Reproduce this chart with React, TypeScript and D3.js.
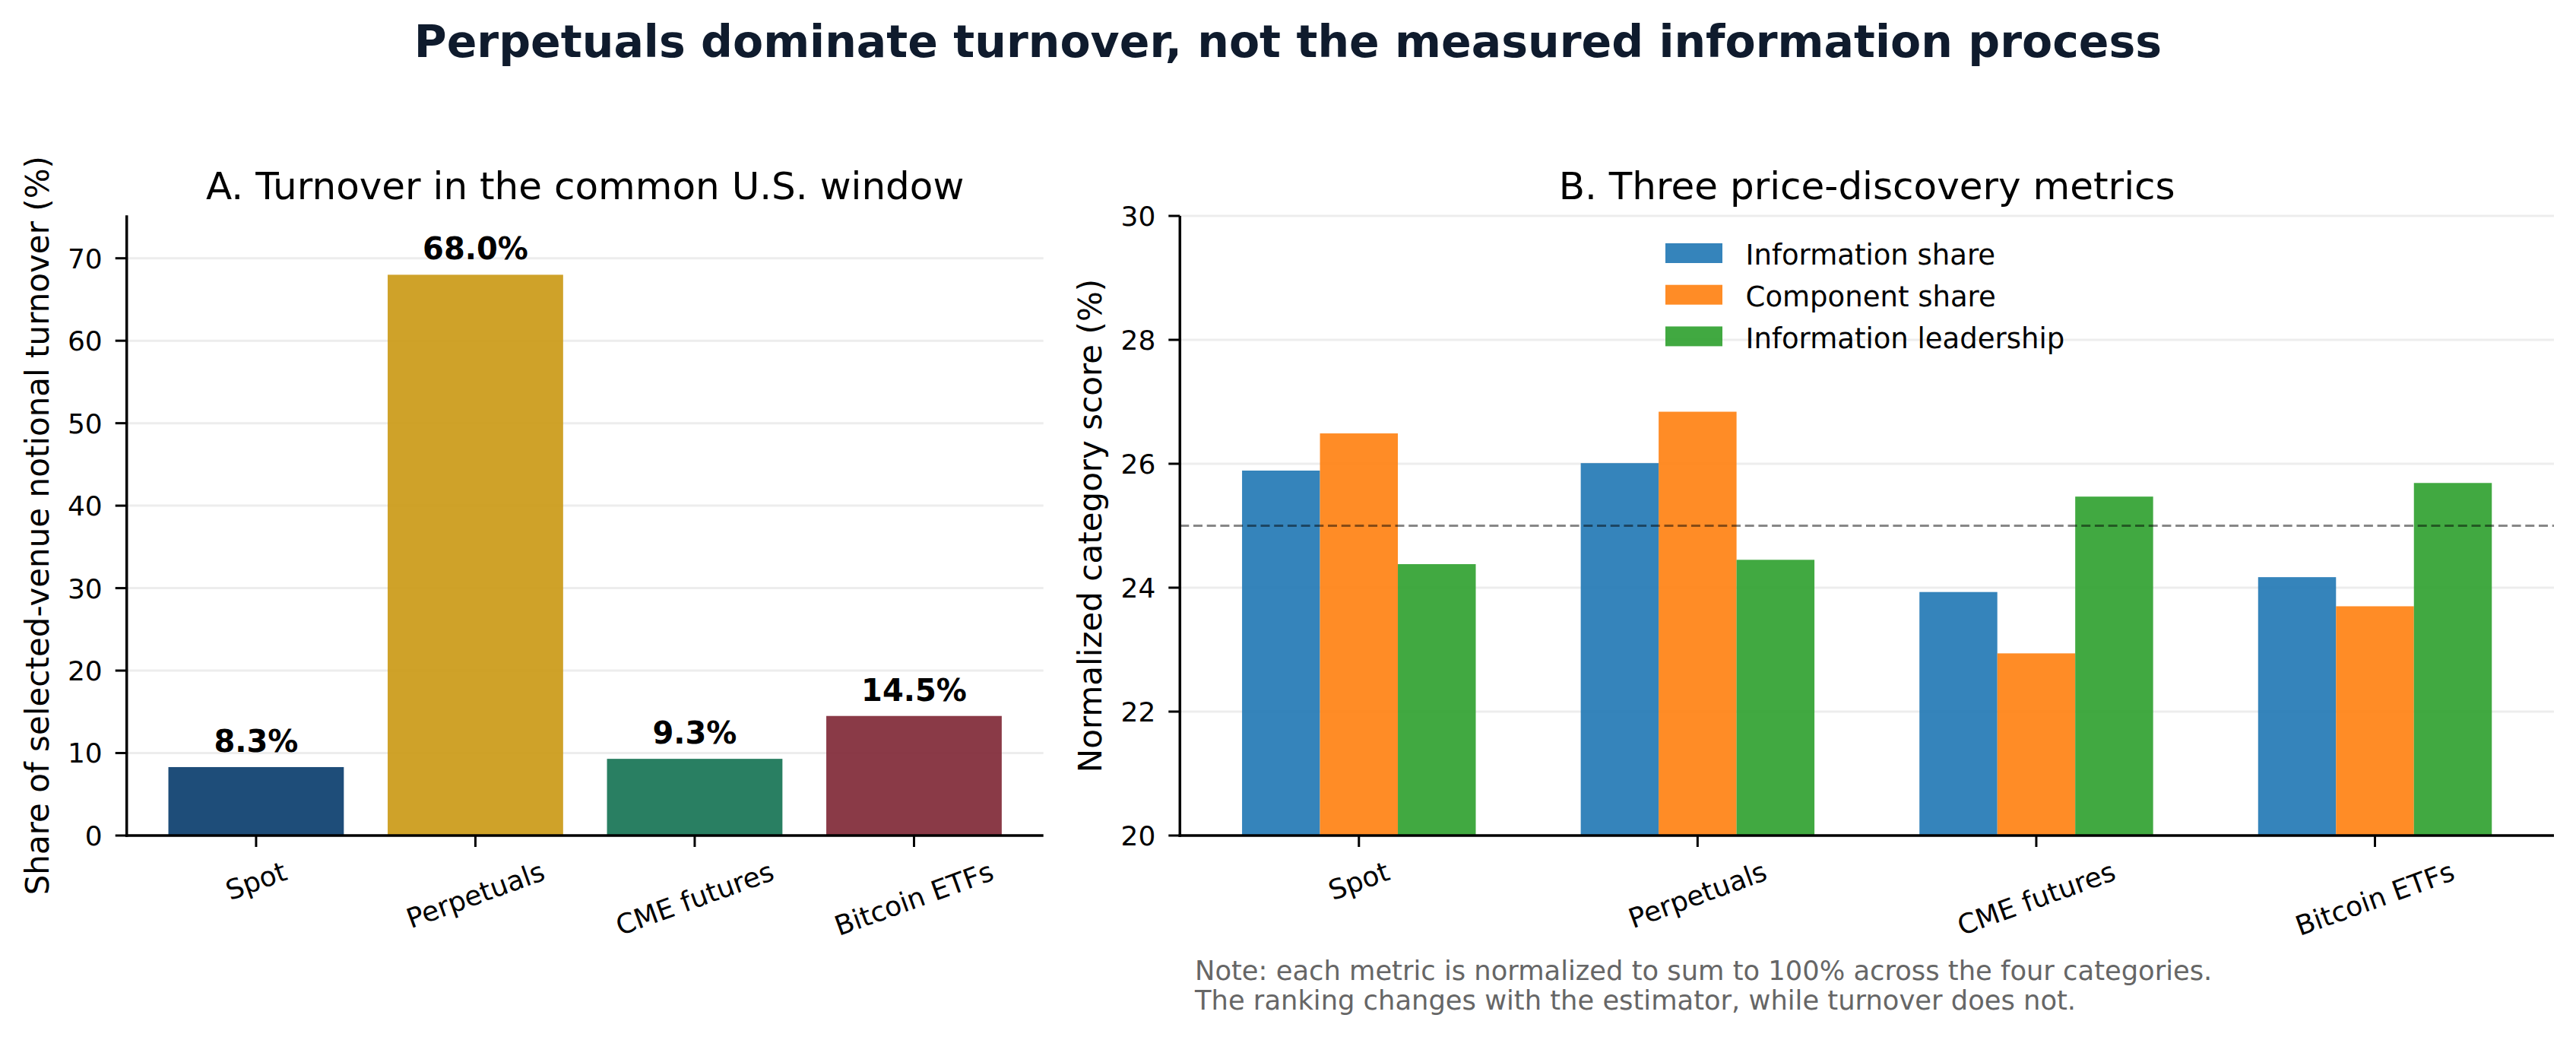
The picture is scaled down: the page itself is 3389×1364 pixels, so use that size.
import React, { useEffect, useRef } from 'react';
import * as d3 from 'd3';

// Panel A data
const categories = ['Spot', 'Perpetuals', 'CME futures', 'Bitcoin ETFs'];
const turnoverShare = [8.3, 68.0, 9.3, 14.5];
const turnoverColors = ['#063a6a', '#ca9812', '#127151', '#7d2533'];
const turnoverTicks = [0, 10, 20, 30, 40, 50, 60, 70];

// Panel B data
const metricNames = ['Information share', 'Component share', 'Information leadership'];
const metricColors = ['#1f77b4', '#ff7f0e', '#2ca02c'];
const informationShare = [25.89, 26.01, 23.93, 24.17];
const componentShare = [26.49, 26.84, 22.94, 23.7];
const informationLeadership = [24.38, 24.45, 25.47, 25.69];
const scoreTicks = [20, 22, 24, 26, 28, 30];
const equalWeight = 25;

const mainTitle = 'Perpetuals dominate turnover, not the measured information process';
const titleA = 'A. Turnover in the common U.S. window';
const titleB = 'B. Three price-discovery metrics';
const yLabelA = 'Share of selected-venue notional turnover (%)';
const yLabelB = 'Normalized category score (%)';
const noteLines = [
  'Note: each metric is normalized to sum to 100% across the four categories.',
  'The ranking changes with the estimator, while turnover does not.',
];

const W = 3389;
const H = 1364;
const FONT = '"DejaVu Sans", Verdana, sans-serif';
const TICK_FS = 36;
const ROT = 20;

const panelA = { left: 166.7, right: 1372.7, top: 283.3, bottom: 1099 };
const panelB = { left: 1552.3, right: 3360, top: 284, bottom: 1099 };

type G = d3.Selection<SVGGElement, unknown, null, undefined>;

function drawGrid(g: G, y: d3.ScaleLinear<number, number>, ticks: number[], x0: number, x1: number) {
  g.selectAll('.grid')
    .data(ticks)
    .enter()
    .append('line')
    .attr('x1', x0)
    .attr('x2', x1)
    .attr('y1', d => y(d))
    .attr('y2', d => y(d))
    .attr('stroke', '#ededed')
    .attr('stroke-width', 3);
}

function drawYAxis(g: G, y: d3.ScaleLinear<number, number>, ticks: number[], x: number) {
  const [bottom, top] = y.range();
  g.append('line')
    .attr('x1', x).attr('x2', x)
    .attr('y1', bottom + 1.75).attr('y2', top)
    .attr('stroke', '#000').attr('stroke-width', 3.5);
  g.selectAll('.ytick')
    .data(ticks)
    .enter()
    .append('line')
    .attr('x1', x - 15).attr('x2', x)
    .attr('y1', d => y(d)).attr('y2', d => y(d))
    .attr('stroke', '#000').attr('stroke-width', 3);
  g.selectAll('.ylab')
    .data(ticks)
    .enter()
    .append('text')
    .attr('x', x - 32)
    .attr('y', d => y(d))
    .attr('dy', '0.36em')
    .attr('text-anchor', 'end')
    .attr('font-size', TICK_FS)
    .attr('fill', '#000')
    .text(d => d3.format('d')(d));
}

function drawXAxis(g: G, x: d3.ScaleBand<string>, y0: number) {
  const [x0, x1] = x.range();
  g.append('line')
    .attr('x1', x0 - 1.75).attr('x2', x1)
    .attr('y1', y0).attr('y2', y0)
    .attr('stroke', '#000').attr('stroke-width', 3.5);
  const cx = (d: string) => (x(d) as number) + x.bandwidth() / 2;
  g.selectAll('.xtick')
    .data(categories)
    .enter()
    .append('line')
    .attr('x1', cx).attr('x2', cx)
    .attr('y1', y0).attr('y2', y0 + 15)
    .attr('stroke', '#000').attr('stroke-width', 3);
  const rad = (ROT * Math.PI) / 180;
  const lineH = TICK_FS * 1.164;
  g.selectAll('.xlab')
    .data(categories)
    .enter()
    .append('text')
    .attr('text-anchor', 'middle')
    .attr('dy', '0.346em')
    .attr('font-size', TICK_FS)
    .attr('fill', '#000')
    .text(d => d)
    .each(function (d) {
      const w = (this as SVGTextElement).getComputedTextLength();
      const bh = w * Math.sin(rad) + lineH * Math.cos(rad);
      d3.select(this).attr('transform', `translate(${cx(d)},${y0 + 26 + bh / 2}) rotate(${-ROT})`);
    });
}

export default function App() {
  const svgRef = useRef<SVGSVGElement>(null);

  useEffect(() => {
    if (!svgRef.current) return;
    const svg = d3.select(svgRef.current);
    svg.selectAll('*').remove();
    svg.attr('font-family', FONT);

    svg.append('rect').attr('width', W).attr('height', H).attr('fill', '#fff');

    svg.append('text')
      .attr('x', W / 2)
      .attr('y', 75)
      .attr('text-anchor', 'middle')
      .attr('font-size', 58.5)
      .attr('font-weight', 'bold')
      .attr('fill', '#0f1b2d')
      .text(mainTitle);

    // ---- Panel A ----
    const gA = svg.append('g');
    const xA = d3.scaleBand<string>()
      .domain(categories)
      .range([panelA.left, panelA.right])
      .paddingInner(0.2)
      .paddingOuter(0.19);
    const yA = d3.scaleLinear().domain([0, 75.2]).range([panelA.bottom, panelA.top]);

    drawGrid(gA, yA, turnoverTicks, panelA.left, panelA.right);

    gA.selectAll('.bar')
      .data(categories)
      .enter()
      .append('rect')
      .attr('x', d => xA(d) as number)
      .attr('width', xA.bandwidth())
      .attr('y', (_, i) => yA(turnoverShare[i]))
      .attr('height', (_, i) => yA(0) - yA(turnoverShare[i]))
      .attr('fill', (_, i) => turnoverColors[i])
      .attr('fill-opacity', 0.9);

    gA.selectAll('.val')
      .data(categories)
      .enter()
      .append('text')
      .attr('x', d => (xA(d) as number) + xA.bandwidth() / 2)
      .attr('y', (_, i) => yA(turnoverShare[i]) - 20)
      .attr('text-anchor', 'middle')
      .attr('font-size', 40)
      .attr('font-weight', 'bold')
      .attr('fill', '#000')
      .text((_, i) => `${turnoverShare[i].toFixed(1)}%`);

    drawYAxis(gA, yA, turnoverTicks, panelA.left);
    drawXAxis(gA, xA, panelA.bottom);

    gA.append('text')
      .attr('x', (panelA.left + panelA.right) / 2)
      .attr('y', 262)
      .attr('text-anchor', 'middle')
      .attr('font-size', 50)
      .attr('fill', '#000')
      .text(titleA);

    gA.append('text')
      .attr('transform', `translate(64,${(panelA.top + panelA.bottom) / 2}) rotate(-90)`)
      .attr('text-anchor', 'middle')
      .attr('font-size', 42)
      .attr('fill', '#000')
      .text(yLabelA);

    // ---- Panel B ----
    const gB = svg.append('g');
    const series = [informationShare, componentShare, informationLeadership];
    const xB = d3.scaleBand<string>()
      .domain(categories)
      .range([panelB.left, panelB.right])
      .paddingInner(0.31)
      .paddingOuter(0.1835);
    const xInner = d3.scaleBand<string>().domain(metricNames).range([0, xB.bandwidth()]).padding(0);
    const yB = d3.scaleLinear().domain([20, 30]).range([panelB.bottom, panelB.top]);

    drawGrid(gB, yB, scoreTicks, panelB.left, panelB.right);

    metricNames.forEach((m, si) => {
      gB.selectAll(`.bar-${si}`)
        .data(categories)
        .enter()
        .append('rect')
        .attr('x', d => (xB(d) as number) + (xInner(m) as number))
        .attr('width', xInner.bandwidth())
        .attr('y', (_, i) => yB(series[si][i]))
        .attr('height', (_, i) => yB(20) - yB(series[si][i]))
        .attr('fill', metricColors[si])
        .attr('fill-opacity', 0.9);
    });

    gB.append('line')
      .attr('x1', panelB.left)
      .attr('x2', panelB.right)
      .attr('y1', yB(equalWeight))
      .attr('y2', yB(equalWeight))
      .attr('stroke', '#000')
      .attr('stroke-opacity', 0.47)
      .attr('stroke-width', 3)
      .attr('stroke-dasharray', '12,5.7');

    drawYAxis(gB, yB, scoreTicks, panelB.left);
    drawXAxis(gB, xB, panelB.bottom);

    gB.append('text')
      .attr('x', (panelB.left + panelB.right) / 2)
      .attr('y', 262)
      .attr('text-anchor', 'middle')
      .attr('font-size', 50)
      .attr('fill', '#000')
      .text(titleB);

    gB.append('text')
      .attr('transform', `translate(1449,${(panelB.top + panelB.bottom) / 2}) rotate(-90)`)
      .attr('text-anchor', 'middle')
      .attr('font-size', 42)
      .attr('fill', '#000')
      .text(yLabelB);

    // Legend
    const legend = gB.append('g').attr('transform', 'translate(2191,320)');
    metricNames.forEach((m, i) => {
      const row = legend.append('g').attr('transform', `translate(0,${i * 54.7})`);
      row.append('rect')
        .attr('width', 75)
        .attr('height', 26)
        .attr('fill', metricColors[i])
        .attr('fill-opacity', 0.9);
      row.append('text')
        .attr('x', 105.6)
        .attr('y', 28.3)
        .attr('font-size', 37)
        .attr('fill', '#000')
        .text(m);
    });

    // Note
    svg.append('g')
      .selectAll('text')
      .data(noteLines)
      .enter()
      .append('text')
      .attr('x', 1572)
      .attr('y', (_, i) => 1289 + i * 39)
      .attr('font-size', 35.3)
      .attr('fill', '#666666')
      .text(d => d);
  }, []);

  return (
    <svg
      ref={svgRef}
      width={W}
      height={H}
      style={{ position: 'absolute', left: 0, top: 0, display: 'block' }}
    />
  );
}
